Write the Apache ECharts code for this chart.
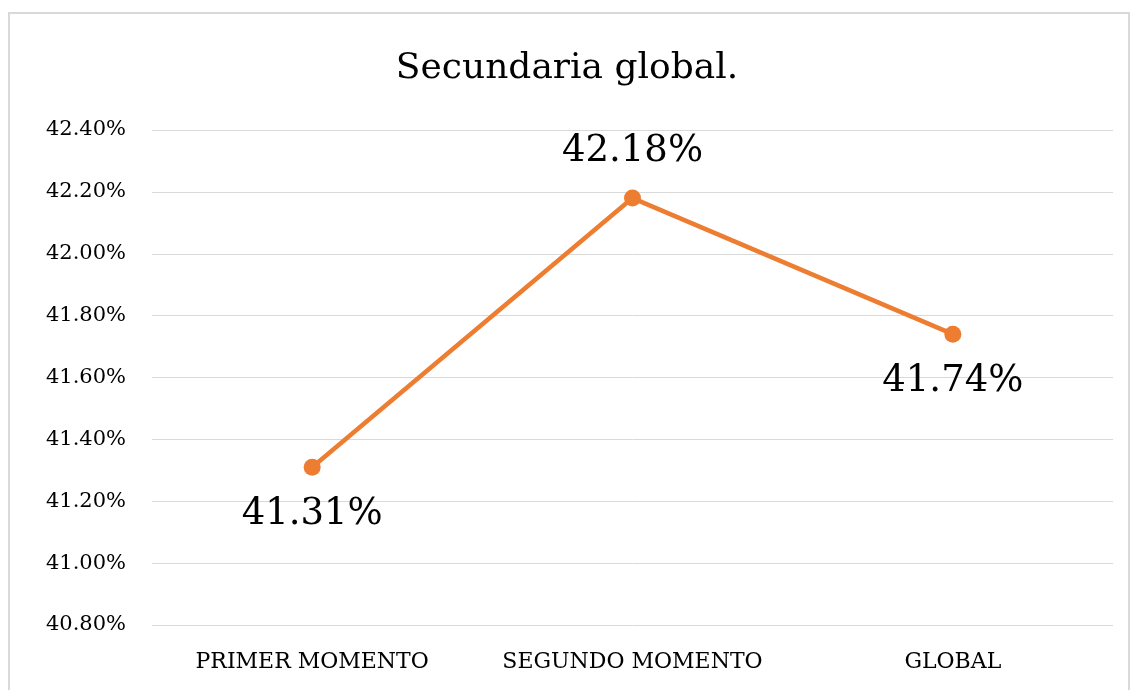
<!DOCTYPE html>
<html>
<head>
<meta charset="utf-8">
<script src="https://cdn.jsdelivr.net/npm/echarts@6/dist/echarts.min.js"></script>
<style>
  html, body { margin: 0; padding: 0; background: #fff; }
  #marco { position: absolute; left: 8px; top: 12px; width: 1122px; height: 700px; border: 2px solid #d9d9d9; box-sizing: border-box; }
  #echarts { position: absolute; left: 0; top: 0; width: 1134px; height: 690px; }
</style>
</head>
<body>
<div id="marco"></div>
<div id="echarts"></div>
<script>
// Datos del gráfico
var categorias = ['PRIMER MOMENTO', 'SEGUNDO MOMENTO', 'GLOBAL'];
var valores = [0.4131, 0.4218, 0.4174];
var posicionEtiqueta = ['bottom', 'top', 'bottom'];

var fuente = '"DejaVu Serif", serif';

var chart = echarts.init(document.getElementById('echarts'));

var options = {
    backgroundColor: 'transparent',
    title: {
        text: 'Secundaria global.',
        left: 'center',
        top: 46,
        textStyle: {
            fontFamily: fuente,
            fontSize: 36,
            fontWeight: 'normal',
            color: '#000'
        }
    },
    grid: {
        left: 152,
        right: 21,
        top: 130,
        bottom: 65
    },
    xAxis: {
        type: 'category',
        data: categorias,
        axisLine: { show: false },
        axisTick: { show: false },
        axisLabel: {
            interval: 0,
            hideOverlap: false,
            fontFamily: fuente,
            fontSize: 22,
            color: '#000',
            margin: 26
        }
    },
    yAxis: {
        type: 'value',
        min: 0.408,
        max: 0.424,
        interval: 0.002,
        axisLine: { show: false },
        axisTick: { show: false },
        splitLine: { lineStyle: { color: '#d9d9d9', width: 1 } },
        axisLabel: {
            fontFamily: fuente,
            fontSize: 21,
            color: '#000',
            margin: 26,
            formatter: function (v) {
                return (v * 100).toFixed(2) + '%';
            }
        }
    },
    series: [
        {
            type: 'line',
            data: valores.map(function (v, i) {
                return {
                    value: v,
                    label: { position: posicionEtiqueta[i] }
                };
            }),
            symbol: 'circle',
            symbolSize: 17,
            itemStyle: { color: '#ED7D31' },
            lineStyle: { color: '#ED7D31', width: 4.5 },
            label: {
                show: true,
                distance: 20,
                fontFamily: fuente,
                fontSize: 37,
                color: '#000',
                formatter: function (p) {
                    return (p.value * 100).toFixed(2) + '%';
                }
            }
        }
    ]
};

chart.setOption(options);
</script>
</body>
</html>
